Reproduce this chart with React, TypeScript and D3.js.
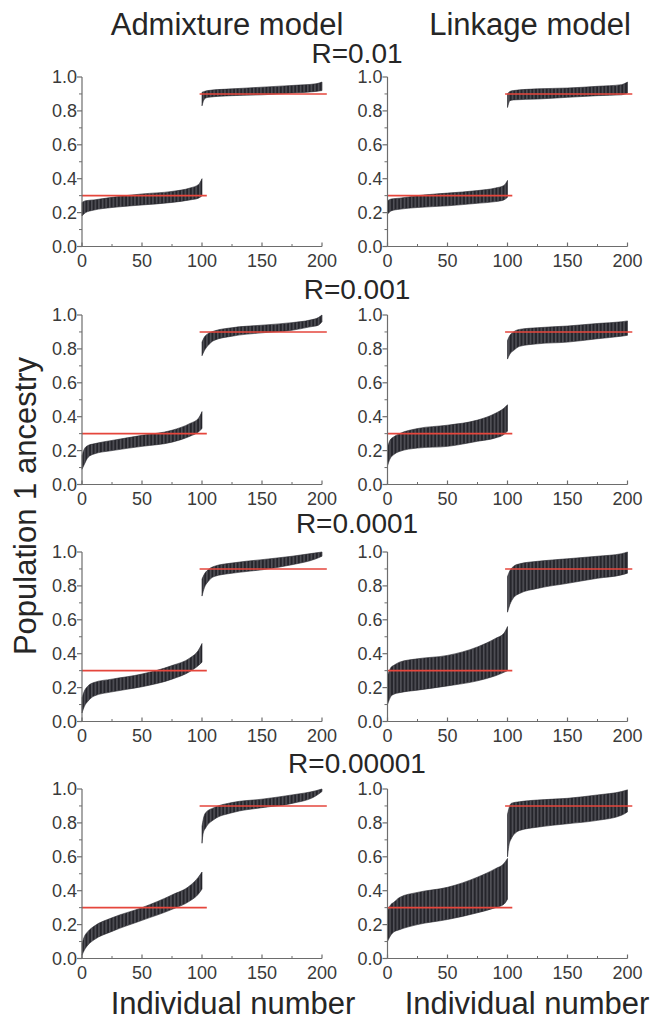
import React from 'react';
import * as d3 from 'd3';

type Pt = [number, number, number]; // [individual, lower, upper]

const columnTitles = ['Admixture model', 'Linkage model'];
const rowTitles = ['R=0.01', 'R=0.001', 'R=0.0001', 'R=0.00001'];
const yTicks = [0, 0.2, 0.4, 0.6, 0.8, 1.0];
const yMinorTicks = [0.1, 0.3, 0.5, 0.7, 0.9];
const xTicks = [0, 50, 100, 150, 200];
const xMinorTicks = [25, 75, 125, 175];
const trueValues = [0.3, 0.9];
const trueSpans: [number, number][] = [[0, 104], [98, 204]];

// Admixture R=0.01
const admix1A: Pt[] = [[0,.18,.26],[3,.20,.27],[10,.215,.275],[25,.23,.29],[50,.245,.31],[75,.26,.325],[90,.275,.345],[97,.285,.365],[100,.30,.40]];
const admix1B: Pt[] = [[100,.83,.91],[102,.87,.915],[105,.88,.92],[125,.89,.93],[150,.895,.94],[175,.905,.95],[195,.915,.96],[200,.92,.97]];
// Linkage R=0.01
const link1A: Pt[] = [[0,.19,.27],[3,.21,.28],[10,.22,.285],[25,.23,.30],[50,.24,.315],[75,.255,.33],[90,.265,.345],[97,.275,.36],[100,.29,.39]];
const link1B: Pt[] = [[100,.82,.90],[102,.86,.915],[105,.865,.92],[125,.87,.93],[150,.88,.935],[175,.89,.945],[195,.895,.955],[200,.905,.97]];
// Admixture R=0.001
const admix2A: Pt[] = [[0,.09,.17],[2,.12,.21],[5,.16,.23],[10,.18,.24],[25,.20,.26],[50,.225,.29],[75,.25,.32],[90,.285,.36],[97,.31,.39],[100,.33,.43]];
const admix2B: Pt[] = [[100,.76,.84],[102,.79,.87],[105,.82,.89],[110,.85,.905],[125,.875,.925],[150,.895,.94],[175,.91,.955],[190,.93,.97],[197,.94,.985],[200,.96,1.0]];
// Linkage R=0.001
const link2A: Pt[] = [[0,.11,.22],[2,.15,.26],[5,.175,.28],[10,.195,.30],[25,.215,.33],[50,.225,.35],[75,.255,.38],[90,.275,.42],[97,.295,.45],[100,.315,.47]];
const link2B: Pt[] = [[100,.74,.85],[102,.77,.88],[105,.79,.90],[110,.815,.915],[125,.83,.925],[150,.84,.935],[175,.86,.95],[195,.875,.96],[200,.88,.965]];
// Admixture R=0.0001
const admix3A: Pt[] = [[0,.05,.14],[2,.09,.18],[5,.12,.21],[10,.15,.23],[25,.175,.25],[50,.205,.28],[75,.25,.33],[90,.295,.375],[97,.33,.42],[100,.35,.46]];
const admix3B: Pt[] = [[100,.74,.84],[102,.79,.87],[105,.825,.895],[110,.855,.915],[125,.875,.935],[150,.895,.955],[175,.925,.975],[195,.96,.995],[200,.975,1.0]];
// Linkage R=0.0001
const link3A: Pt[] = [[0,.10,.27],[3,.15,.32],[5,.16,.33],[10,.17,.35],[25,.185,.37],[50,.21,.39],[75,.24,.44],[90,.27,.49],[97,.29,.52],[100,.30,.56]];
const link3B: Pt[] = [[100,.645,.855],[102,.69,.89],[105,.73,.915],[110,.755,.93],[125,.785,.945],[150,.815,.96],[175,.845,.975],[195,.865,.99],[200,.875,1.0]];
// Admixture R=0.00001
const admix4A: Pt[] = [[0,.02,.09],[2,.05,.13],[5,.08,.16],[10,.11,.19],[25,.16,.24],[50,.225,.30],[75,.29,.375],[90,.34,.43],[97,.38,.48],[100,.41,.51]];
const admix4B: Pt[] = [[100,.68,.78],[101,.74,.82],[103,.77,.86],[110,.82,.89],[125,.86,.92],[150,.89,.94],[175,.915,.965],[195,.96,.99],[200,.985,1.0]];
// Linkage R=0.00001
const link4A: Pt[] = [[0,.10,.28],[3,.14,.32],[5,.155,.33],[10,.17,.36],[25,.20,.39],[50,.23,.42],[75,.27,.48],[90,.30,.53],[97,.32,.56],[100,.35,.59]];
const link4B: Pt[] = [[100,.60,.85],[101,.66,.88],[103,.705,.915],[110,.755,.925],[125,.775,.935],[150,.795,.945],[175,.815,.965],[195,.845,.985],[200,.865,.995]];

const panels: Pt[][][][] = [
  [[admix1A, admix1B], [link1A, link1B]],
  [[admix2A, admix2B], [link2A, link2B]],
  [[admix3A, admix3B], [link3A, link3B]],
  [[admix4A, admix4B], [link4A, link4B]],
];

const FONT = '"Liberation Sans", Arial, Helvetica, sans-serif';
const colX = [82, 387.5];
const rowY = [77, 315, 552, 789];
const PW = 240;
const PH = 169.5;
const rowTitleBase = [63, 299, 533, 773];

function Panel({ x0, y0, groups, pid }: { x0: number; y0: number; groups: Pt[][]; pid: string }) {
  const x = d3.scaleLinear().domain([0, 200]).range([x0, x0 + PW]);
  const y = d3.scaleLinear().domain([0, 1]).range([y0 + PH, y0]);
  const area = d3
    .area<Pt>()
    .x((d) => x(d[0]))
    .y0((d) => y(d[1]))
    .y1((d) => y(d[2]))
    .curve(d3.curveMonotoneX);
  const step = x(3) - x(0);
  const axisColor = '#6d6d6d';
  const labelColor = '#3a3a3a';
  return (
    <g>
      <defs>
        <pattern id={`bars-${pid}`} patternUnits="userSpaceOnUse" x={x0} y={0} width={step} height={10}>
          <rect x={0} y={0} width={step} height={10} fill="#25252b" />
          <rect x={step * 0.62} y={0} width={0.8} height={10} fill="#7a7a82" />
        </pattern>
      </defs>
      {groups.map((g, i) => (
        <path key={i} d={area(g) || ''} fill={`url(#bars-${pid})`} stroke="#25252b" strokeWidth={0.6} />
      ))}
      {trueValues.map((v, i) => (
        <line
          key={i}
          x1={x(trueSpans[i][0])}
          x2={x(trueSpans[i][1])}
          y1={y(v)}
          y2={y(v)}
          stroke="#e5463c"
          strokeWidth={1.6}
        />
      ))}
      <line x1={x0} x2={x0} y1={y(0)} y2={y(1)} stroke={axisColor} strokeWidth={1.2} />
      {yTicks.map((t) => (
        <g key={t}>
          <line x1={x0 - 5} x2={x0} y1={y(t)} y2={y(t)} stroke={axisColor} strokeWidth={1.2} />
          <text
            x={x0 - 5}
            y={y(t)}
            dy="0.36em"
            textAnchor="end"
            fontSize={18}
            fontFamily={FONT}
            fill={labelColor}
          >
            {d3.format('.1f')(t)}
          </text>
        </g>
      ))}
      {yMinorTicks.map((t) => (
        <line key={t} x1={x0 - 3} x2={x0} y1={y(t)} y2={y(t)} stroke={axisColor} strokeWidth={1} />
      ))}
      <line x1={x(0)} x2={x(200)} y1={y(0)} y2={y(0)} stroke={axisColor} strokeWidth={1.2} />
      {xTicks.map((t) => (
        <g key={t}>
          <line x1={x(t)} x2={x(t)} y1={y(0)} y2={y(0) - 4} stroke={axisColor} strokeWidth={1.2} />
          <text x={x(t)} y={y(0) + 20} textAnchor="middle" fontSize={18} fontFamily={FONT} fill={labelColor}>
            {t}
          </text>
        </g>
      ))}
      {xMinorTicks.map((t) => (
        <line key={t} x1={x(t)} x2={x(t)} y1={y(0)} y2={y(0) - 2.5} stroke={axisColor} strokeWidth={1} />
      ))}
    </g>
  );
}

export default function App() {
  const textColor = '#262626';
  return (
    <svg
      width={652}
      height={1020}
      viewBox="0 0 652 1020"
      style={{ position: 'absolute', left: 0, top: 0, background: '#fff' }}
    >
      <rect x={0} y={0} width={652} height={1020} fill="#fff" />
      <text x={227} y={35} textAnchor="middle" fontSize={31} fontFamily={FONT} fill={textColor}>
        {columnTitles[0]}
      </text>
      <text x={530} y={35} textAnchor="middle" fontSize={31} fontFamily={FONT} fill={textColor}>
        {columnTitles[1]}
      </text>
      {rowTitles.map((t, r) => (
        <text key={t} x={357} y={rowTitleBase[r]} textAnchor="middle" fontSize={28} fontFamily={FONT} fill={textColor}>
          {t}
        </text>
      ))}
      {panels.map((row, r) =>
        row.map((groups, c) => (
          <Panel key={`${r}-${c}`} pid={`${r}-${c}`} x0={colX[c]} y0={rowY[r]} groups={groups} />
        ))
      )}
      <text
        transform="translate(36,506) rotate(-90)"
        textAnchor="middle"
        fontSize={31}
        fontFamily={FONT}
        fill={textColor}
      >
        Population 1 ancestry
      </text>
      <text x={233} y={1014} textAnchor="middle" fontSize={31} fontFamily={FONT} fill={textColor}>
        Individual number
      </text>
      <text x={527} y={1014} textAnchor="middle" fontSize={31} fontFamily={FONT} fill={textColor}>
        Individual number
      </text>
    </svg>
  );
}
